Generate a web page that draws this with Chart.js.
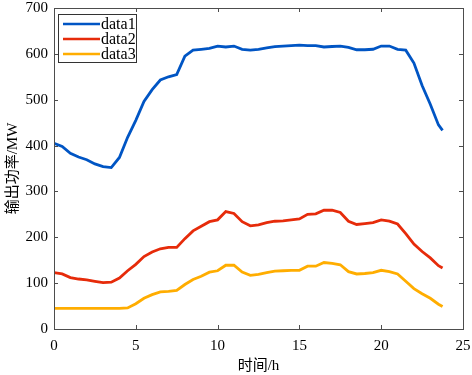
<!DOCTYPE html>
<html>
<head>
<meta charset="utf-8">
<script src="https://cdn.jsdelivr.net/npm/chart.js@4/dist/chart.umd.min.js"></script>
<style>
  html, body { margin: 0; padding: 0; background: #fff; }
  #wrap { width: 472px; height: 375px; }
</style>
</head>
<body>
<div id="wrap"><canvas id="chart"></canvas></div>
<script>
// time axis (h)
const hours = [0, 0.5, 1, 1.5, 2, 2.5, 3, 3.5, 4, 4.5, 5, 5.5, 6, 6.5, 7, 7.5, 8, 8.5, 9, 9.5,
  10, 10.5, 11, 11.5, 12, 12.5, 13, 13.5, 14, 14.5, 15, 15.5, 16, 16.5, 17, 17.5, 18, 18.5, 19, 19.5,
  20, 20.5, 21, 21.5, 22, 22.5, 23, 23.5, 23.75];

// output power (MW)
const data1 = [405, 398, 383, 375, 369, 360, 354, 352, 374, 418, 455, 496, 522, 543, 550, 555, 595, 608, 610, 612,
  617, 615, 617, 610, 608, 610, 613, 616, 617, 618, 619, 618, 618, 615, 616, 617, 614, 609, 609, 610,
  617, 617, 610, 608, 580, 531, 490, 445, 433];
const data2 = [123, 120, 112, 109, 107, 104, 101, 102, 111, 127, 141, 158, 168, 175, 178, 178, 197, 214, 224, 234,
  238, 256, 252, 234, 225, 227, 232, 235, 236, 238, 240, 250, 251, 259, 259, 254, 235, 228, 230, 232,
  238, 235, 229, 208, 185, 169, 155, 138, 133];
const data3 = [45, 45, 45, 45, 45, 45, 45, 45, 45, 46, 55, 67, 75, 81, 82, 84, 97, 108, 115, 124,
  127, 139, 139, 124, 117, 119, 123, 126, 127, 128, 128, 137, 137, 145, 143, 140, 125, 120, 121, 123,
  128, 125, 120, 104, 88, 77, 67, 54, 49];

const seriesNames = ['data1', 'data2', 'data3'];
const seriesColors = ['#0055c4', '#e62b0a', '#ffad00'];
const xTicks = [0, 5, 10, 15, 20, 25];
const yTicks = [0, 100, 200, 300, 400, 500, 600, 700];

const serif = "'Liberation Serif', 'Times New Roman', serif";
const cjk = "'Liberation Serif', 'Noto Sans CJK SC', serif";
const axisColor = '#4d4d4d';

const toPoints = values => values.map((v, i) => ({ x: hours[i], y: v }));

// box around the axes with inward ticks on all four sides (matlab style)
const boxPlugin = {
  id: 'box',
  afterDraw(chart) {
    const { ctx, chartArea: a, scales } = chart;
    const len = 4;
    ctx.save();
    ctx.strokeStyle = axisColor;
    ctx.lineWidth = 1;
    ctx.strokeRect(a.left + 0.5, a.top + 0.5, a.right - a.left, a.bottom - a.top);
    ctx.beginPath();
    xTicks.forEach(t => {
      const px = Math.round(scales.x.getPixelForValue(t)) + 0.5;
      ctx.moveTo(px, a.bottom); ctx.lineTo(px, a.bottom - len);
      ctx.moveTo(px, a.top); ctx.lineTo(px, a.top + len);
    });
    yTicks.forEach(t => {
      const py = Math.round(scales.y.getPixelForValue(t)) + 0.5;
      ctx.moveTo(a.left, py); ctx.lineTo(a.left + len, py);
      ctx.moveTo(a.right, py); ctx.lineTo(a.right - len, py);
    });
    ctx.stroke();
    ctx.restore();
  }
};

// legend box in the top-left corner
const legendPlugin = {
  id: 'legendBox',
  afterDraw(chart) {
    const { ctx, chartArea: a } = chart;
    const x0 = a.left + 4, y0 = a.top + 6;
    const w = 78, h = 48;
    ctx.save();
    ctx.fillStyle = '#fff';
    ctx.fillRect(x0, y0, w, h);
    ctx.strokeStyle = '#333';
    ctx.lineWidth = 1;
    ctx.strokeRect(x0 + 0.5, y0 + 0.5, w, h);
    ctx.font = '16px ' + serif;
    ctx.textBaseline = 'middle';
    chart.data.datasets.forEach((ds, i) => {
      const y = y0 + 10 + i * 15;
      ctx.strokeStyle = ds.borderColor;
      ctx.lineWidth = 2.5;
      ctx.beginPath();
      ctx.moveTo(x0 + 5, y);
      ctx.lineTo(x0 + 42, y);
      ctx.stroke();
      ctx.fillStyle = '#000';
      ctx.fillText(ds.label, x0 + 43, y + 1);
    });
    ctx.restore();
  }
};

new Chart(document.getElementById('chart'), {
  type: 'line',
  data: {
    datasets: [data1, data2, data3].map((values, i) => ({
      label: seriesNames[i],
      data: toPoints(values),
      borderColor: seriesColors[i],
      backgroundColor: seriesColors[i],
      borderWidth: 2.8,
      pointRadius: 0,
      tension: 0,
      fill: false
    }))
  },
  options: {
    responsive: true,
    maintainAspectRatio: false,
    animation: false,
    layout: { padding: { left: 0, right: 9, top: 8, bottom: 0 } },
    plugins: {
      legend: { display: false },
      tooltip: { enabled: false }
    },
    scales: {
      x: {
        type: 'linear',
        min: 0,
        max: 25,
        afterBuildTicks: scale => { scale.ticks = xTicks.map(v => ({ value: v })); },
        afterFit: scale => { scale.height = 46; scale.paddingLeft = 0; scale.paddingRight = 0; },
        grid: { display: false, drawTicks: false },
        border: { display: false },
        ticks: { color: '#000', font: { family: serif, size: 15 }, padding: 8, maxRotation: 0 },
        title: { display: true, text: '时间/h', color: '#000', font: { family: cjk, size: 15 }, padding: { top: 0, bottom: 0 } }
      },
      y: {
        min: 0,
        max: 700,
        afterBuildTicks: scale => { scale.ticks = yTicks.map(v => ({ value: v })); },
        afterFit: scale => { scale.width = 54; scale.paddingTop = 0; scale.paddingBottom = 0; },
        grid: { display: false, drawTicks: false },
        border: { display: false },
        ticks: { color: '#000', font: { family: serif, size: 15 }, padding: 6 },
        title: { display: true, text: '输出功率/MW', color: '#000', font: { family: cjk, size: 15 }, padding: { top: 4, bottom: 0 } }
      }
    }
  },
  plugins: [boxPlugin, legendPlugin]
});
</script>
</body>
</html>
